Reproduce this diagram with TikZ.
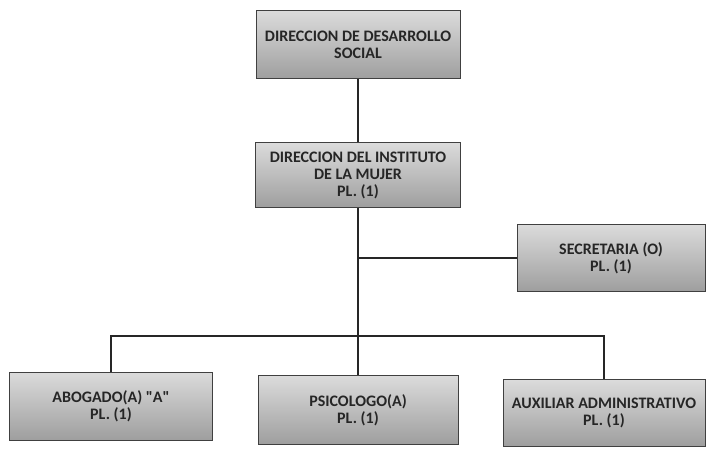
\documentclass[tikz,border=0pt]{standalone}
\usepackage{fontspec}
\setmainfont{Carlito}
\begin{document}
\begin{tikzpicture}[x=1pt,y=-1pt,
  box/.style={draw=black!75, line width=1pt, top color=black!14, bottom color=black!38,
    minimum width=#1, minimum height=67pt, align=center, inner sep=2pt,
    font=\fontsize{16}{17}\selectfont\bfseries, text=black!85},
  box/.default=203pt,
  link/.style={draw=black!85, line width=1.4pt}]
\useasboundingbox (0,0) rectangle (709,449);
\fill[white] (0,0) rectangle (709,449);
\node[box=204pt, minimum height=68pt] (top) at (358,45) {DIRECCION DE DESARROLLO\\SOCIAL};
\node[box=205pt, minimum height=65pt] (inst) at (358,175) {DIRECCION DEL INSTITUTO\\DE LA MUJER\\PL. (1)};
\node[box=188pt] (sec) at (611,258) {SECRETARIA (O)\\PL. (1)};
\node[box=203pt, minimum height=68pt] (abo) at (111,406) {ABOGADO(A) \textquotedbl A\textquotedbl\\PL. (1)};
\node[box=200pt, minimum height=69pt] (psi) at (358,410) {PSICOLOGO(A)\\PL. (1)};
\node[box=202pt] (aux) at (604,413) {AUXILIAR ADMINISTRATIVO\\PL. (1)};
\coordinate (bus) at (358,336);
\draw[link] (top.south) -- (inst.north);
\draw[link] (inst.south) -- (psi.north);
\draw[link] (sec.west) -- (sec.west -| inst.south);
\draw[link] (abo.north) |- (bus) -| (aux.north);
\end{tikzpicture}
\end{document}
